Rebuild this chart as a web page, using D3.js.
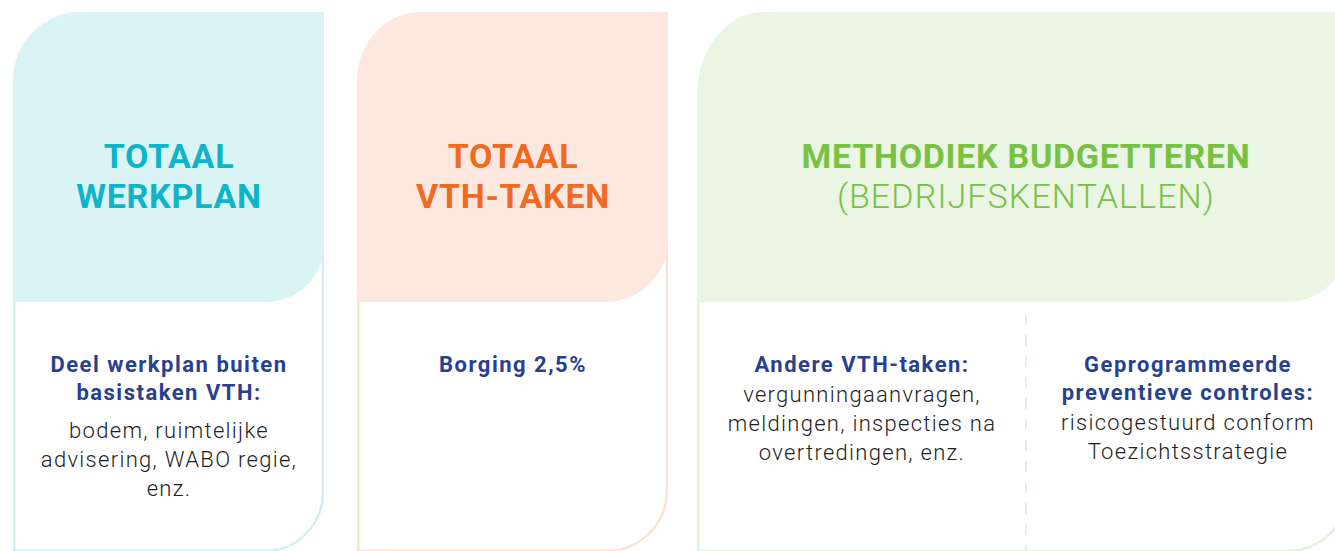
<!DOCTYPE html>
<html>
<head>
<meta charset="utf-8">
<script src="https://cdn.jsdelivr.net/npm/d3@7"></script>
<style>
  html, body { margin: 0; padding: 0; background: #ffffff; }
  svg { display: block; }
</style>
</head>
<body>
<script>
// ---- data (text content) ----
const panelTitles = [["TOTAAL", "WERKPLAN"], ["TOTAAL", "VTH-TAKEN"], ["METHODIEK BUDGETTEREN"]];
const panelSubtitles = ["", "", "(BEDRIJFSKENTALLEN)"];
const blockHeadings = [
  ["Deel werkplan buiten", "basistaken VTH:"],
  ["Borging 2,5%"],
  ["Andere VTH-taken:"],
  ["Geprogrammeerde", "preventieve controles:"]
];
const blockBodies = [
  ["bodem, ruimtelijke", "advisering, WABO regie,", "enz."],
  [],
  ["vergunningaanvragen,", "meldingen, inspecties na", "overtredingen, enz."],
  ["risicogestuurd conform", "Toezichtsstrategie"]
];

// ---- layout & style ----
const W = 1335, H = 551;
const panels = [
  { x0: 13, x1: 324, rTL: 67, rTLy: 68, rHead: 58, rBot: 58, fill: "#daf4f6", stroke: "#d0eff3", title: "#0fb4c8", tx: 169 },
  { x0: 357, x1: 668, rTL: 64, rTLy: 68, rHead: 62, rBot: 60, fill: "#fde8df", stroke: "#fbe0d5", title: "#f26922", tx: 513 },
  { x0: 697, x1: 1349, rTL: 66, rTLy: 84, rHead: 62, rBot: 60, fill: "#eaf5e3", stroke: "#e2f1d9", title: "#77c143", tx: 1026 }
];
const yTop = 12, yHead = 302, yBot = 551;
const blockCenters = [169, 513, 862, 1188];
const blockGap = [38, 30, 30, 30];
const navy = "#27418f";
const bodyColor = "#1e1e1e";
const font = "Roboto, 'DejaVu Sans', sans-serif";

const svg = d3.select("body").append("svg").attr("width", W).attr("height", H);

function headPath(p) {
  const r = p.rHead;
  return `M${p.x0},${yTop + p.rTLy} A${p.rTL},${p.rTLy} 0 0 1 ${p.x0 + p.rTL},${yTop}` +
         ` L${p.x1},${yTop} L${p.x1},${yHead - r} A${r},${r} 0 0 1 ${p.x1 - r},${yHead}` +
         ` L${p.x0},${yHead} Z`;
}
function outlinePath(p) {
  const r = p.rBot, x0 = p.x0 + 1.2, x1 = p.x1 - 1.2;
  return `M${x0},${yTop + p.rTLy + 10} L${x0},${yBot} L${x1 - r},${yBot}` +
         ` A${r},${r} 0 0 0 ${x1},${yBot - r} L${x1},${yTop + 20}`;
}

const g = svg.selectAll("g.panel").data(panels).join("g").attr("class", "panel");
g.append("path").attr("d", outlinePath).attr("fill", "none")
  .attr("stroke", d => d.stroke).attr("stroke-width", 2.4);
g.append("path").attr("d", headPath).attr("fill", d => d.fill);

// dashed divider in third panel
svg.append("line")
  .attr("x1", 1026).attr("x2", 1026).attr("y1", 314).attr("y2", yBot)
  .attr("stroke", panels[2].stroke).attr("stroke-width", 2)
  .attr("stroke-dasharray", "11,10");

// titles
panels.forEach((p, i) => {
  const t = svg.append("text")
    .attr("text-anchor", "middle")
    .attr("font-family", font)
    .attr("font-weight", 700)
    .attr("font-size", 34)
    .attr("letter-spacing", 0.7)
    .attr("fill", p.title);
  panelTitles[i].forEach((line, k) => {
    t.append("tspan").attr("x", p.tx).attr("y", 168 + k * 40).text(line);
  });
  if (panelSubtitles[i]) {
    svg.append("text")
      .attr("text-anchor", "middle")
      .attr("font-family", font)
      .attr("font-weight", 300)
      .attr("font-size", 34)
      .attr("letter-spacing", 1.1)
      .attr("fill", p.title)
      .attr("x", p.tx).attr("y", 168 + panelTitles[i].length * 40)
      .text(panelSubtitles[i]);
  }
});

// content blocks
blockHeadings.forEach((heads, i) => {
  const cx = blockCenters[i];
  let y = 372;
  heads.forEach((line, k) => {
    svg.append("text").attr("x", cx).attr("y", y)
      .attr("text-anchor", "middle")
      .attr("font-family", font).attr("font-weight", 700).attr("font-size", 22)
      .attr("letter-spacing", 1.5)
      .attr("fill", navy).text(line);
    if (k < heads.length - 1) y += 28;
  });
  y += blockGap[i];
  blockBodies[i].forEach((line) => {
    svg.append("text").attr("x", cx).attr("y", y)
      .attr("text-anchor", "middle")
      .attr("font-family", font).attr("font-weight", 300).attr("font-size", 22)
      .attr("letter-spacing", 1.3)
      .attr("fill", bodyColor).text(line);
    y += 29;
  });
});
</script>
</body>
</html>
